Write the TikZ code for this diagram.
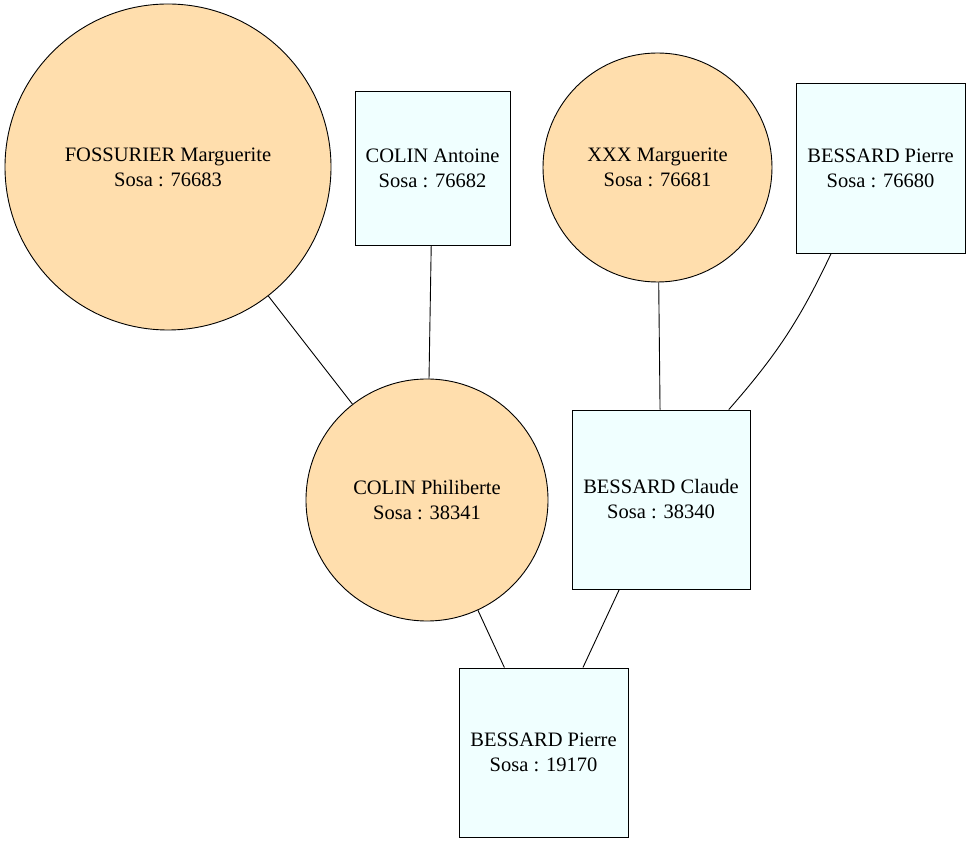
\documentclass[tikz,border=0pt]{standalone}
\usepackage{fontspec}
\setmainfont{Liberation Serif}
\usetikzlibrary{positioning}
\definecolor{femmefill}{HTML}{FFDEAD}
\definecolor{hommefill}{HTML}{F0FFFF}
\tikzset{
    person/.style={draw=black, line width=0.9pt, inner sep=0pt, align=center, font=\fontsize{20.5}{25}\selectfont},
    femme/.style={person, circle, fill=femmefill},
    homme/.style={person, rectangle, fill=hommefill},
    link/.style={draw=black, line width=0.9pt}
}
\begin{document}
\begin{tikzpicture}[x=1pt, y=1pt]
    \useasboundingbox (0,0) rectangle (970,844);
    % generation 3
    \node[femme, minimum size=326pt] (fossurier) at (168,677) {FOSSURIER Marguerite\\Sosa : 76683};
    \node[homme, minimum width=155pt, minimum height=154pt] (antoine) at (432.5,676) {COLIN Antoine\\Sosa : 76682};
    \node[femme, minimum size=229pt] (xxx) at (657.5,676.5) {XXX Marguerite\\Sosa : 76681};
    \node[homme, minimum width=169pt, minimum height=170pt] (pierrea) at (880.5,676) {BESSARD Pierre\\Sosa : 76680};
    % generation 2
    \node[femme, minimum size=242pt] (philiberte) at (427,344) {COLIN Philiberte\\Sosa : 38341};
    \node[homme, minimum width=178pt, minimum height=179pt] (claude) at (661,344.5) {BESSARD Claude\\Sosa : 38340};
    % generation 1
    \node[homme, minimum width=169pt, minimum height=169pt] (pierre) at (543.5,91.5) {BESSARD Pierre\\Sosa : 19170};
    % links
    \draw[link] (fossurier) -- (philiberte);
    \draw[link] (antoine) -- (philiberte);
    \draw[link] (xxx) -- (claude);
    \draw[link] (pierrea.240) to[bend left=8] (claude.53);
    \draw[link] (philiberte) -- (pierre);
    \draw[link] (claude) -- (pierre);
\end{tikzpicture}
\end{document}
